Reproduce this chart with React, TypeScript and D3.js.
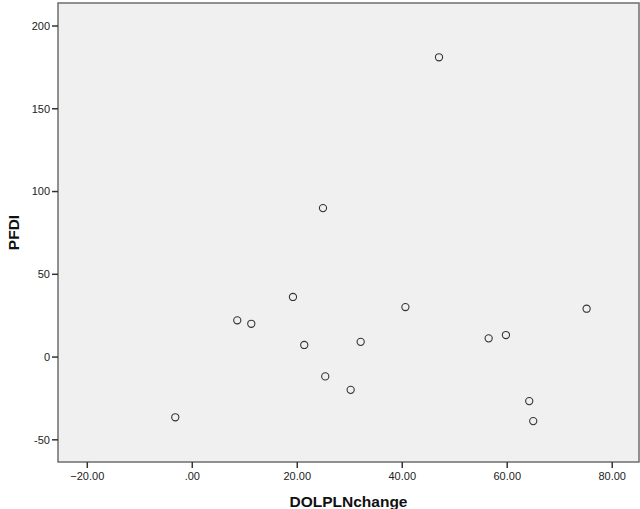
import React from "react";
import * as d3 from "d3";

// Scatter of DOLPLNchange against PFDI
const dolplnChange = [-3.24, 8.57, 11.24, 19.18, 21.33, 24.9, 25.33, 30.17, 32.08, 40.6, 47.0, 56.46, 59.75, 64.19, 64.95, 75.12];
const pfdi = [-36.4, 22.2, 20.1, 36.3, 7.3, 90.0, -11.7, -19.8, 9.2, 30.2, 181.1, 11.3, 13.3, -26.6, -38.7, 29.2];
const xTicks = [-20, 0, 20, 40, 60, 80];
const yTicks = [-50, 0, 50, 100, 150, 200];

const W = 640;
const H = 509;
const left = 58;
const right = 639;
const top = 3;
const bottom = 462;

const fmtX = (v: number) => (v === 0 ? ".00" : d3.format(".2f")(v));

export default function App() {
  const x = d3.scaleLinear().domain([-25.58, 85.1]).range([left, right]);
  const y = d3.scaleLinear().domain([-63.4, 213.9]).range([bottom, top]);
  const font = "Arial, 'Liberation Sans', sans-serif";

  return (
    <svg
      width={W}
      height={H}
      style={{ position: "absolute", left: 0, top: 0, display: "block", background: "#fff" }}
      fontFamily={font}
    >
      <rect x={left} y={top} width={right - left} height={bottom - top} fill="#f0f0f0" stroke="none" />
      <path
        d={`M${left},${top}H${right}V${bottom}H${left}Z`}
        fill="none"
        stroke="#6e6e6e"
        strokeWidth={1.5}
      />
      {yTicks.map((t) => (
        <g key={"y" + t}>
          <line x1={left - 6} x2={left} y1={y(t)} y2={y(t)} stroke="#333" strokeWidth={1.5} />
          <text x={left - 8} y={y(t)} dy="0.35em" textAnchor="end" fontSize={11} fill="#222">
            {t}
          </text>
        </g>
      ))}
      {xTicks.map((t) => (
        <g key={"x" + t}>
          <line x1={x(t)} x2={x(t)} y1={bottom} y2={bottom + 6} stroke="#333" strokeWidth={1.5} />
          <text x={x(t)} y={bottom + 18} textAnchor="middle" fontSize={11} fill="#222">
            {fmtX(t)}
          </text>
        </g>
      ))}
      {dolplnChange.map((d, i) => (
        <circle key={i} cx={x(d)} cy={y(pfdi[i])} r={3.6} fill="none" stroke="#333" strokeWidth={1.1} />
      ))}
      <text
        x={(left + right) / 2}
        y={507}
        textAnchor="middle"
        fontSize={15.5}
        fontWeight="bold"
        fill="#111"
      >
        DOLPLNchange
      </text>
      <text
        transform={`translate(19,${(top + bottom) / 2}) rotate(-90)`}
        textAnchor="middle"
        fontSize={15.5}
        fontWeight="bold"
        fill="#111"
      >
        PFDI
      </text>
    </svg>
  );
}
